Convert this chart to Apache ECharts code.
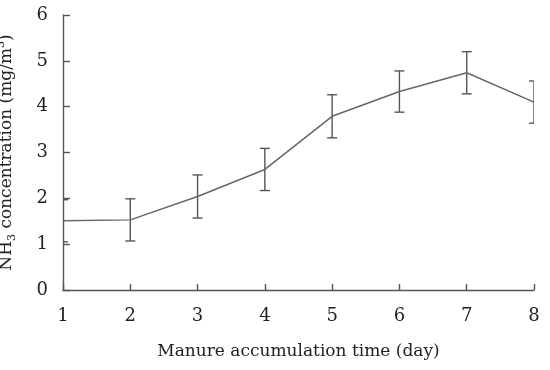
<!DOCTYPE html>
<html>
<head>
<meta charset="utf-8">
<script src="https://cdn.jsdelivr.net/npm/echarts@6/dist/echarts.min.js"></script>
<style>html,body{margin:0;padding:0;background:#fff;}#c{width:550px;height:370px;}</style>
</head>
<body>
<div id="c"></div>
<script>
var days = [1, 2, 3, 4, 5, 6, 7, 8];
var concentration = [1.51, 1.53, 2.04, 2.63, 3.79, 4.33, 4.74, 4.10];
var errors = [0.46, 0.46, 0.47, 0.46, 0.47, 0.45, 0.46, 0.46];
var xTicks = [1, 2, 3, 4, 5, 6, 7, 8];
var yTicks = [0, 1, 2, 3, 4, 5, 6];

var FONT = '"DejaVu Serif", "Liberation Serif", serif';
var lineData = days.map(function (d, i) { return [d, concentration[i]]; });
var errData = days.map(function (d, i) { return [d, concentration[i] - errors[i], concentration[i] + errors[i]]; });

var chart = echarts.init(document.getElementById('c'));
chart.setOption({
  animation: false,
  backgroundColor: '#fff',
  grid: { left: 63, right: 16, top: 15, bottom: 80, containLabel: false, outerBoundsMode: 'none' },
  xAxis: {
    type: 'value', min: 1, max: 8, interval: 1,
    name: 'Manure accumulation time (day)',
    nameLocation: 'middle', nameGap: 53,
    nameTextStyle: { fontFamily: FONT, fontSize: 17, color: '#222' },
    axisLine: { lineStyle: { color: '#555', width: 1.4 } },
    axisTick: { show: true, inside: true, length: 6, lineStyle: { color: '#555', width: 1.4 } },
    axisLabel: { fontFamily: FONT, fontSize: 18, color: '#222', margin: 17,
      formatter: function (v) { return xTicks.indexOf(v) >= 0 ? String(v) : ''; } },
    splitLine: { show: false }
  },
  yAxis: {
    type: 'value', min: 0, max: 6, interval: 1,
    name: '{a|NH}{s|3}{a| concentration (mg/m}{p|3}{a|)}',
    nameLocation: 'middle', nameGap: 45, nameRotate: 90,
    nameTextStyle: {
      fontFamily: FONT, fontSize: 17, color: '#222',
      rich: {
        a: { fontFamily: FONT, fontSize: 17, color: '#222', lineHeight: 22 },
        s: { fontFamily: FONT, fontSize: 11, color: '#222', lineHeight: 22, verticalAlign: 'bottom' },
        p: { fontFamily: FONT, fontSize: 11, color: '#222', lineHeight: 22, verticalAlign: 'top' }
      }
    },
    axisLine: { show: true, lineStyle: { color: '#555', width: 1.4 } },
    axisTick: { show: true, inside: true, length: 7, lineStyle: { color: '#555', width: 1.4 } },
    axisLabel: { fontFamily: FONT, fontSize: 18, color: '#222', margin: 15,
      formatter: function (v) { return yTicks.indexOf(v) >= 0 ? String(v) : ''; } },
    splitLine: { show: false }
  },
  series: [
    {
      type: 'line', data: lineData, symbol: 'none',
      lineStyle: { color: '#666', width: 1.5 }
    },
    {
      type: 'custom', data: errData, clip: true,
      renderItem: function (params, api) {
        var x = api.value(0);
        var lo = api.coord([x, api.value(1)]);
        var hi = api.coord([x, api.value(2)]);
        var h = 5;
        var st = { stroke: '#555', lineWidth: 1.4, fill: null };
        return {
          type: 'group',
          children: [
            { type: 'line', shape: { x1: lo[0], y1: lo[1], x2: hi[0], y2: hi[1] }, style: st },
            { type: 'line', shape: { x1: lo[0] - h, y1: lo[1], x2: lo[0] + h, y2: lo[1] }, style: st },
            { type: 'line', shape: { x1: hi[0] - h, y1: hi[1], x2: hi[0] + h, y2: hi[1] }, style: st }
          ]
        };
      }
    }
  ]
});
</script>
</body>
</html>
